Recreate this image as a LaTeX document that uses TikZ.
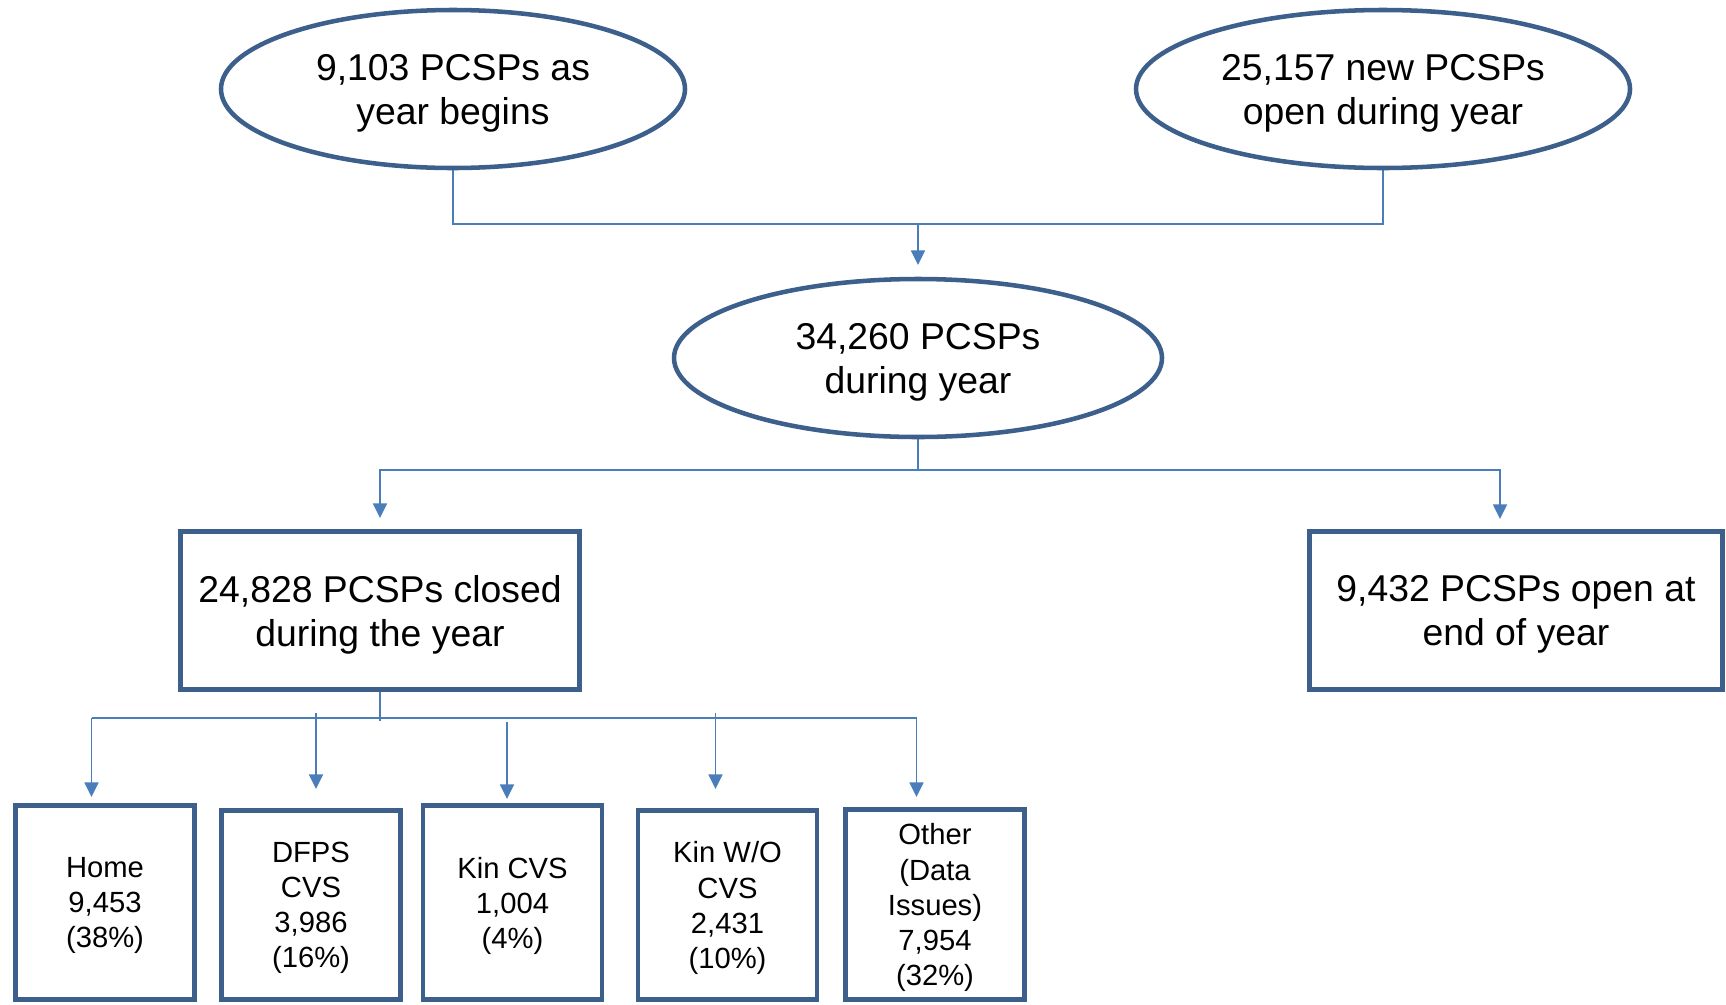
\documentclass[tikz,border=0pt]{standalone}
\usepackage{fontspec}
\setmainfont{Liberation Sans}
\usetikzlibrary{shapes.geometric,arrows.meta,backgrounds}
\definecolor{bord}{RGB}{60,95,140}
\definecolor{conn}{RGB}{74,126,187}
\begin{document}
\begin{tikzpicture}[x=0.75pt,y=-0.75pt,
 oval/.style={ellipse,draw=bord,line width=3.4pt,inner sep=0pt,align=center,minimum height=118.5pt,text depth=-0.8pt,font=\fontsize{28}{33}\selectfont},
 bigbox/.style={rectangle,draw=bord,line width=3.4pt,inner sep=0pt,align=center,minimum height=118.5pt,text depth=-2.4pt,font=\fontsize{28}{33}\selectfont},
 smallbox/.style={rectangle,draw=bord,line width=3.4pt,inner sep=0pt,align=center,minimum width=134.5pt,font=\fontsize{21.9}{26.3}\selectfont},
 link/.style={draw=conn,line width=1.2pt},
 arr/.style={link,-{Triangle[length=11pt,width=10.5pt]}}]
\useasboundingbox (0,0) rectangle (1726,1004);

\node[oval,minimum width=348pt] (e1) at (453,89) {9,103 PCSPs as\\year begins};
\node[oval,minimum width=370.5pt] (e2) at (1383,89) {25,157 new PCSPs\\open during year};
\node[oval,minimum width=366pt,text depth=-2.4pt] (e3) at (918,358) {34,260 PCSPs\\during year};

\node[bigbox,minimum width=299pt] (closed) at (380,610.5) {24,828 PCSPs closed\\during the year};
\node[bigbox,minimum width=310pt] (open) at (1516,610.5) {9,432 PCSPs open at\\end of year};

\node[smallbox,minimum height=145.5pt,text depth=-8.6pt] (home) at (105,902.5) {Home\\9,453\\(38\%)};
\node[smallbox,minimum height=141.75pt,text depth=-2.4pt] (dfps) at (311,905) {DFPS\\CVS\\3,986\\(16\%)};
\node[smallbox,minimum height=145.5pt,text depth=-8.6pt] (kin) at (512.5,902.5) {Kin CVS\\1,004\\(4\%)};
\node[smallbox,minimum height=141.75pt,text depth=-2.4pt] (kinwo) at (727.5,905) {Kin W/O\\CVS\\2,431\\(10\%)};
\node[smallbox,minimum height=142.5pt,text depth=-9.5pt] (other) at (935,904.5) {Other\\(Data\\Issues)\\7,954\\(32\%)};

\coordinate (j1) at (918,224);
\coordinate (t1) at (918,265);
\coordinate (j2) at (918,470);
\coordinate (t2) at (380,518);
\coordinate (t3) at (1500,519);
\coordinate (j3) at (380,721);
\coordinate (bl) at (91.5,718);
\coordinate (br) at (916.5,718);
\coordinate (s2) at (316,713);
\coordinate (s3) at (507,722);
\coordinate (s4) at (715.5,713);
\coordinate (th) at (91.5,797);
\coordinate (td) at (316,789);
\coordinate (tk) at (507,799);
\coordinate (tw) at (715.5,789);
\coordinate (to) at (916.5,797);

\begin{scope}[on background layer]
\draw[link] (e1.south) |- (j1) -| (e2.south);
\draw[arr] (j1) -- (t1);
\draw[link] (e3.south) -- (j2);
\draw[arr] (j2) -| (t2);
\draw[arr] (j2) -| (t3);
\draw[link] (closed.south) -- (j3);
\draw[link] (bl) -- (br);
\draw[arr] (bl) -- (th);
\draw[arr] (s2) -- (td);
\draw[arr] (s3) -- (tk);
\draw[arr] (s4) -- (tw);
\draw[arr] (br) -- (to);
\end{scope}
\end{tikzpicture}
\end{document}
